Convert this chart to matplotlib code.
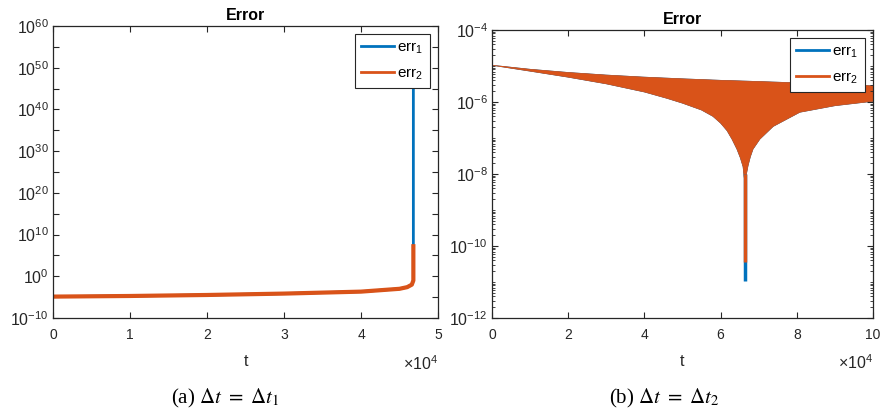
import matplotlib.pyplot as plt
import numpy as np
from matplotlib.lines import Line2D
from matplotlib.ticker import FixedLocator, LogLocator, NullFormatter, FuncFormatter, LogFormatterMathtext

plt.rcParams['font.family'] = 'Liberation Sans'
plt.rcParams['mathtext.fontset'] = 'custom'
plt.rcParams['mathtext.rm'] = 'Liberation Sans'
plt.rcParams['mathtext.it'] = 'Liberation Sans:italic'
plt.rcParams['mathtext.bf'] = 'Liberation Sans:bold'

blue = '#0072BD'
orange = '#D95319'
dark = '#262626'

# (a) dt = dt1 : error stays small, then blows up near t = 4.68e4
t_a = [0, 1e4, 2e4, 3e4, 4e4, 4.5e4, 4.6e4, 4.66e4, 4.68e4, 4.68e4]
err1_a = [1.35e-5, 1.9e-5, 3.3e-5, 7.1e-5, 2.1e-4, 1e-3, 2.5e-3, 1e-2, 1e-1, 1e55]
err2_a = [1.35e-5, 1.9e-5, 3.3e-5, 7.1e-5, 2.1e-4, 1e-3, 2.5e-3, 1e-2, 1e-1, 1.6e7]

# (b) dt = dt2 : fast oscillation, upper and lower envelope of |err|
t_up = [0, 1e4, 2e4, 3e4, 4e4, 5e4, 6e4, 7e4, 8e4, 9e4, 1e5]
err_up = [1.05e-5, 8.1e-6, 6.6e-6, 5.6e-6, 4.9e-6, 4.4e-6, 4.0e-6, 3.7e-6, 3.4e-6, 3.1e-6, 2.8e-6]
t_lo = [0, 1e4, 2e4, 3e4, 4e4, 4.6e4, 5e4, 5.5e4, 5.8e4, 6.0e4, 6.17e4, 6.3e4, 6.43e4, 6.52e4,
        6.59e4, 6.62e4, 6.66e4, 6.72e4, 6.78e4, 6.85e4, 7.03e4, 7.38e4, 8.08e4, 9e4, 1e5]
err_lo = [1.05e-5, 7.2e-6, 4.9e-6, 3.2e-6, 1.9e-6, 1.26e-6, 9.3e-7, 6.0e-7, 4.0e-7, 2.6e-7,
          1.6e-7, 9.3e-8, 4.9e-8, 2.8e-8, 1.6e-8, 8e-9, 8e-9, 1.7e-8, 3.0e-8, 4.9e-8, 9.3e-8,
          2.1e-7, 5.2e-7, 7.9e-7, 1.05e-6]
t_dip = 6.64e4
dip_top = 1e-8
dip_err1 = 1.1e-11
dip_err2 = 3.6e-11

fig = plt.figure(figsize=(8.84, 4.15), dpi=100)
ax1 = fig.add_axes([53 / 884, 97 / 415, 385 / 884, 292 / 415])
ax2 = fig.add_axes([492 / 884, 97 / 415, 381 / 884, 288 / 415])

# left panel
ax1.plot(t_a, err1_a, color=blue, lw=2)
ax1.plot(t_a, err2_a, color=orange, lw=3)
ax1.set_yscale('log')
ax1.set_ylim(1e-10, 1e60)
ax1.set_xlim(0, 5e4)
ax1.yaxis.set_major_locator(FixedLocator([10.0 ** k for k in range(-10, 61, 10)]))
ax1.yaxis.set_minor_locator(FixedLocator([10.0 ** k for k in range(-5, 60, 10)]))
ax1.yaxis.set_major_formatter(LogFormatterMathtext())
ax1.yaxis.set_minor_formatter(NullFormatter())
ax1.set_xticks([0, 1e4, 2e4, 3e4, 4e4, 5e4])
ax1.tick_params(which='minor', direction='in', length=4, width=0.8, color=dark, right=True)

# right panel
ax2.fill(np.r_[t_up, t_lo[::-1]], np.r_[err_up, err_lo[::-1]], color=blue, lw=0.5)
ax2.plot([t_dip, t_dip], [dip_top, dip_err1], color=blue, lw=2.5, solid_capstyle='butt')
ax2.fill(np.r_[t_up, t_lo[::-1]], np.r_[err_up, err_lo[::-1]], color=orange, lw=0.5)
ax2.plot([t_dip, t_dip], [dip_top, dip_err2], color=orange, lw=2.5, solid_capstyle='butt')
ax2.set_yscale('log')
ax2.set_ylim(1e-12, 1e-4)
ax2.set_xlim(0, 1e5)
ax2.yaxis.set_major_locator(FixedLocator([10.0 ** k for k in range(-12, -3, 2)]))
ax2.yaxis.set_minor_locator(LogLocator(base=10, subs=np.arange(1, 10), numticks=100))
ax2.yaxis.set_major_formatter(LogFormatterMathtext())
ax2.yaxis.set_minor_formatter(NullFormatter())
ax2.set_xticks([0, 2e4, 4e4, 6e4, 8e4, 10e4])
ax2.tick_params(which='minor', direction='in', length=2, width=0.6, color=dark, right=True)

handles = [Line2D([], [], color=blue, lw=2), Line2D([], [], color=orange, lw=2)]
labels = ['err$_1$', 'err$_2$']

for ax in (ax1, ax2):
    ax.xaxis.set_major_formatter(FuncFormatter(lambda v, p: f'{v / 1e4:g}'))
    ax.tick_params(which='major', direction='in', length=4, width=0.8, color=dark,
                   labelcolor=dark, labelsize=10, top=True, right=True)
    ax.tick_params(axis='x', pad=7)
    ax.tick_params(axis='y', pad=3, labelsize=11.5)
    for s in ax.spines.values():
        s.set_color(dark)
        s.set_linewidth(0.9)
    ax.set_title('Error', fontsize=11.5, fontweight='bold', pad=4)
    ax.set_xlabel('t', fontsize=11.5, color=dark, labelpad=9)
    ax.text(1.0, -0.155, r'$\times10^{4}$', transform=ax.transAxes, ha='right', va='center',
            fontsize=11.5, color=dark)
    leg = ax.legend(handles, labels, loc='upper right', fontsize=11, handlelength=2.2,
                    handletextpad=0.2, labelspacing=0.7, borderaxespad=0.55, borderpad=0.4,
                    fancybox=False, framealpha=1)
    leg.get_frame().set_edgecolor(dark)
    leg.get_frame().set_linewidth(0.8)

fig.text(225 / 884, 17 / 415, r'(a) $\Delta t\ =\ \Delta t_1$', ha='center', va='center',
         fontsize=15, family='Liberation Serif', math_fontfamily='stix')
fig.text(664 / 884, 17 / 415, r'(b) $\Delta t\ =\ \Delta t_2$', ha='center', va='center',
         fontsize=15, family='Liberation Serif', math_fontfamily='stix')

fig.savefig('out.png', dpi=100)
